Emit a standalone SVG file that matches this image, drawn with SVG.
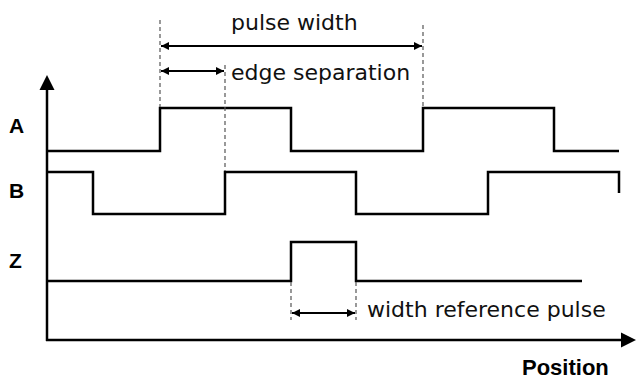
<svg xmlns="http://www.w3.org/2000/svg" width="636" height="379" viewBox="0 0 636 379">
<style>
.sig{fill:none;stroke:#000;stroke-width:2.5;stroke-linejoin:miter}
.axis{fill:none;stroke:#000;stroke-width:2.5}
.dim{fill:none;stroke:#000;stroke-width:2}
.dash{fill:none;stroke:#555;stroke-width:1.2;stroke-dasharray:4 3}
.lbl{font-family:"DejaVu Sans",sans-serif;font-size:22px;fill:#111}
.bold{font-family:"Liberation Sans",Arial,sans-serif;font-weight:bold;font-size:21px;fill:#000}
</style>
<defs>
<marker id="ah" viewBox="0 0 10 10" refX="10" refY="5" markerWidth="8" markerHeight="8" markerUnits="userSpaceOnUse" orient="auto-start-reverse">
<path d="M0,0 L10,5 L0,10 z" fill="#000"/>
</marker>
</defs>
<rect width="636" height="379" fill="#fff"/>
<g id="axes">
<path class="axis" d="M47,341 V86"/>
<path d="M47,75 L54.5,90 L39.5,90 z" fill="#000"/>
<path class="axis" d="M46,340 H624"/>
<path d="M636,340 L621,332.5 L621,347.5 z" fill="#000"/>
</g>
<g id="signal-A"><path class="sig" d="M47,151 H160 V108 H291 V151 H423 V108 H554 V151 H619"/></g>
<g id="signal-B"><path class="sig" d="M47,172 H93 V214 H225 V172 H356 V214 H488 V172 H619 V193"/></g>
<g id="signal-Z"><path class="sig" d="M47,281 H291 V242 H356 V281 H582"/></g>
<g id="connectors">
<path class="dash" d="M160,20 V107"/>
<path class="dash" d="M225,65 V171"/>
<path class="dash" d="M423,25 V107"/>
<path class="dash" d="M291,282 V320"/>
<path class="dash" d="M356,282 V320"/>
<path class="dim" d="M161,46 H422" marker-start="url(#ah)" marker-end="url(#ah)"/>
<path class="dim" d="M161,71 H224" marker-start="url(#ah)" marker-end="url(#ah)"/>
<path class="dim" d="M292,313 H355" marker-start="url(#ah)" marker-end="url(#ah)"/>
</g>
<g id="labels">
<text class="lbl" x="231" y="30">pulse width</text>
<text class="lbl" x="231" y="80">edge separation</text>
<text class="lbl" x="367" y="317">width reference pulse</text>
<text class="bold" x="9" y="133">A</text>
<text class="bold" x="9" y="198">B</text>
<text class="bold" x="9" y="268">Z</text>
<text class="bold" x="522" y="375" style="font-size:22px">Position</text>
</g>
</svg>
